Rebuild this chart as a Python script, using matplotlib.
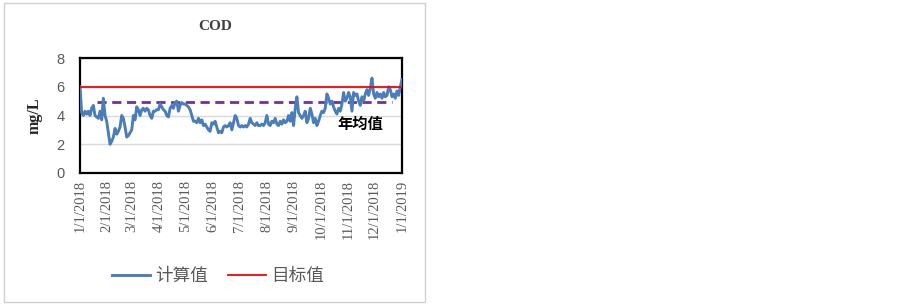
import matplotlib
matplotlib.use("Agg")
import matplotlib.pyplot as plt
from matplotlib.patches import Rectangle
import pandas as pd

plt.rcParams['font.family'] = ['Noto Sans CJK SC', 'DejaVu Sans']

title = "COD"
ylabel = "mg/L"
series_calc_name = "计算值"
series_target_name = "目标值"
annual_label = "年均值"

start_date = "2018-01-01"
end_date = "2019-01-01"

calc_values = [
    6.0, 4.2, 4.0, 4.3, 4.1, 4.3, 4.0, 4.5, 4.7, 4.0,
    3.9, 3.8, 4.3, 3.7, 5.2, 4.0, 3.6, 2.8, 2.0, 2.2,
    2.5, 3.1, 2.7, 2.9, 3.2, 4.0, 3.8, 3.2, 2.5, 2.6,
    2.8, 3.0, 4.0, 3.7, 4.6, 4.4, 4.0, 4.4, 4.5, 4.3,
    4.5, 4.4, 4.0, 3.8, 4.3, 4.3, 4.4, 4.4, 4.8, 4.6,
    4.4, 4.3, 4.0, 3.9, 4.5, 4.7, 4.5, 4.9, 5.0, 4.3,
    4.7, 4.9, 4.8, 4.8, 4.7, 4.6, 4.4, 4.0, 3.6, 3.6,
    3.5, 3.8, 3.5, 3.7, 3.3, 3.4, 3.2, 3.0, 2.9, 3.5,
    3.4, 3.6, 3.2, 2.8, 2.9, 2.8, 3.2, 3.3, 3.2, 3.3,
    3.5, 3.0, 3.5, 4.0, 3.8, 3.3, 3.2, 3.3, 3.2, 3.3,
    3.2, 3.4, 3.8, 3.5, 3.4, 3.3, 3.5, 3.3, 3.3, 3.4,
    3.3, 3.5, 4.0, 3.4, 3.3, 3.6, 3.5, 3.8, 3.4, 3.3,
    3.6, 3.4, 3.7, 3.5, 3.6, 4.0, 3.6, 4.2, 3.3, 4.5,
    5.3, 4.2, 4.0, 3.8, 4.0, 4.3, 3.5, 3.8, 4.5, 4.1,
    3.5, 3.8, 3.3, 3.6, 4.0, 4.3, 4.2, 4.5, 5.5, 5.2,
    4.8, 5.0, 4.6, 4.3, 4.1, 4.5, 4.3, 4.8, 5.6, 5.0,
    5.2, 5.6, 5.3, 4.3, 5.6, 5.4, 5.5, 5.0, 4.7, 5.3,
    5.0, 5.5, 5.8, 5.4, 5.9, 6.6, 5.5, 5.2, 5.6, 5.3,
    5.5, 5.2, 5.6, 5.3, 5.4, 6.0, 5.8, 5.3, 5.5, 5.2,
    5.7, 5.4, 6.0, 6.5,
]
target_value = 6.0
annual_mean = 4.93
annual_start = "2018-01-20"
annual_end = "2018-12-21"
annual_label_date = "2018-11-15"
annual_label_y = 3.4

tick_dates = ["2018-01-01", "2018-02-01", "2018-03-01", "2018-04-01", "2018-05-01",
              "2018-06-01", "2018-07-01", "2018-08-01", "2018-09-01", "2018-10-01",
              "2018-11-01", "2018-12-01", "2019-01-01"]
tick_labels = ["1/1/2018", "2/1/2018", "3/1/2018", "4/1/2018", "5/1/2018", "6/1/2018",
               "7/1/2018", "8/1/2018", "9/1/2018", "10/1/2018", "11/1/2018",
               "12/1/2018", "1/1/2019"]
y_ticks = [0, 2, 4, 6, 8]

dates = pd.date_range(start_date, end_date, periods=len(calc_values))

fig = plt.figure(figsize=(9.03, 3.07), dpi=100)
fig.patch.set_facecolor("white")
fig.patches.append(Rectangle((4 / 903, 1 - 302 / 307), 421 / 903, 299 / 307,
                             transform=fig.transFigure, fill=False,
                             edgecolor="#D0D0D0", linewidth=1.0))

ax = fig.add_axes([80 / 903, 1 - 173 / 307, 322 / 903, 115 / 307])

ax.plot(dates, calc_values, color="#4A7EBB", linewidth=2.1, label=series_calc_name, zorder=3)
ax.plot([pd.Timestamp(start_date), pd.Timestamp(end_date)], [target_value, target_value],
        color="#FF0000", linewidth=1.3, label=series_target_name, zorder=4)
ax.plot([pd.Timestamp(annual_start), pd.Timestamp(annual_end)], [annual_mean, annual_mean],
        color="#7030A0", linewidth=2.0, dashes=(3.3, 2.0), zorder=2)

ax.set_xlim(pd.Timestamp(start_date), pd.Timestamp(end_date))
ax.set_ylim(0, 8)
ax.set_yticks(y_ticks)
ax.set_yticklabels([str(v) for v in y_ticks], color="#595959", fontsize=10.5,
                   family=["Liberation Sans", "DejaVu Sans"])
ax.set_xticks([pd.Timestamp(d) for d in tick_dates])
ax.set_xticklabels(tick_labels, rotation=90, color="#595959", fontsize=10.5,
                   family=["Liberation Serif", "DejaVu Serif"])
ax.tick_params(axis="x", length=0, pad=5)
ax.tick_params(axis="y", length=0, pad=11)
ax.grid(axis="y", color="#D9D9D9", linewidth=1.0, zorder=0)
ax.set_axisbelow(True)
for s in ax.spines.values():
    s.set_color("black")
    s.set_linewidth(1.6)

ax.set_ylabel(ylabel, fontsize=11.5, fontweight="bold", color="#262626",
              family=["Liberation Serif", "DejaVu Serif"], labelpad=10)
fig.text(215 / 903, 1 - 26 / 307, title, ha="center", va="center", fontsize=11,
         fontweight="bold", color="#404040", family=["Liberation Serif", "DejaVu Serif"])

ax.text(pd.Timestamp(annual_label_date), annual_label_y, annual_label, ha="center", va="center",
        fontsize=11, fontweight="bold", color="black",
        family=["Noto Sans CJK SC", "DejaVu Sans"])

leg = fig.legend(loc="center", bbox_to_anchor=(218 / 903, 1 - 276 / 307), ncol=2,
                 frameon=False, handlelength=2.15, columnspacing=1.1,
                 handletextpad=0.3,
                 prop={"family": ["Noto Sans CJK SC", "DejaVu Sans"], "size": 12.7})
for t in leg.get_texts():
    t.set_color("#595959")

fig.savefig("out.png", dpi=100, facecolor="white")
